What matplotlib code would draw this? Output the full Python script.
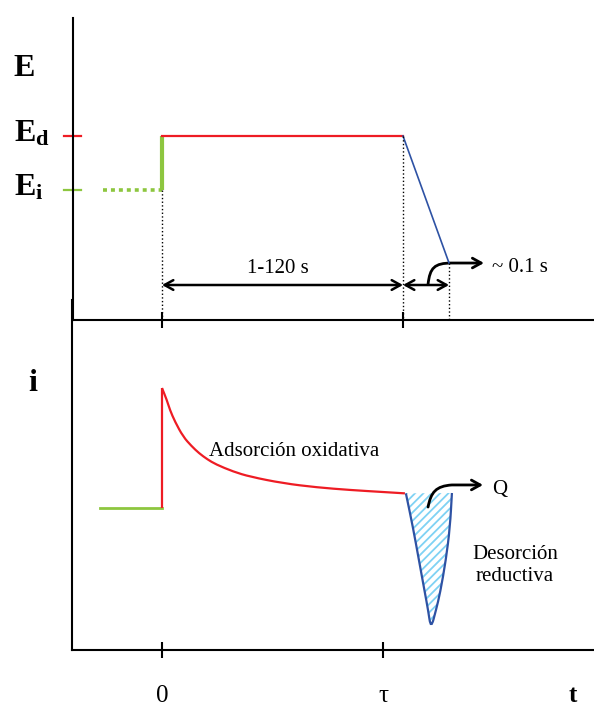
import matplotlib
matplotlib.use('Agg')
import matplotlib.pyplot as plt
from matplotlib.patches import FancyArrowPatch, PathPatch
from matplotlib.path import Path
from matplotlib.transforms import blended_transform_factory, offset_copy

plt.rcParams['font.family'] = 'Liberation Serif'
plt.rcParams['mathtext.fontset'] = 'custom'
plt.rcParams['mathtext.rm'] = 'Liberation Serif'
plt.rcParams['mathtext.bf'] = 'Liberation Serif:bold'
plt.rcParams['hatch.linewidth'] = 1.3

# tiempo en unidades de tau; potencial: E_i = 0, E_d = 1
t_pre = [-0.245, 0.0]
E_pre = [0.0, 0.0]
t_step = [0.0, 0.0]
E_step = [0.0, 1.0]
t_hold = [0.0, 1.0]
E_hold = [1.0, 1.0]
t_sweep = [1.0, 1.191]
E_sweep = [1.0, -1.352]
E_ticks = [1.0, 0.0]
E_tick_labels = [r'$\mathbf{E_d}$', r'$\mathbf{E_i}$']
t_ticks_E = [0.0, 1.0]

# corriente (unidades arbitrarias)
t_base = [-0.257, 0.0]
i_base = [0.0, 0.0]
t_jump = [0.0, 0.0]
i_jump = [0.0, 1.0]
t_ox = [0.0, 0.020, 0.033, 0.054, 0.088, 0.122, 0.154, 0.188, 0.223,
        0.296, 0.365, 0.503, 0.642, 0.780, 0.919, 1.008]
i_ox = [1.0, 0.900, 0.817, 0.719, 0.594, 0.517, 0.456, 0.406, 0.364,
        0.303, 0.261, 0.206, 0.172, 0.150, 0.133, 0.122]
t_red = [1.012, 1.041, 1.066, 1.091, 1.104, 1.116, 1.137, 1.154, 1.178,
         1.195, 1.203]
i_red = [0.122, -0.158, -0.433, -0.708, -0.85, -1.008, -0.85, -0.708,
         -0.433, -0.158, 0.125]
t_ticks_i = [0.0, 0.917]
t_tick_labels = ['0', 'τ']

RED = '#ee1c24'
GREEN = '#8dc63f'
BLUE = '#2e52a4'
HATCH = '#7fd2f4'

W, H = 594, 706
fig = plt.figure(figsize=(W / 100, H / 100), dpi=100)

def px_axes(x0, y0, x1, y1):
    return fig.add_axes([x0 / W, 1 - y1 / H, (x1 - x0) / W, (y1 - y0) / H])

def smooth_path(xs, ys, closed=False):
    # curva suave que pasa cerca de los puntos (cuadraticas entre puntos medios)
    pts = list(zip(xs, ys))
    verts = [pts[0], ((pts[0][0] + pts[1][0]) / 2, (pts[0][1] + pts[1][1]) / 2)]
    codes = [Path.MOVETO, Path.LINETO]
    for k in range(1, len(pts) - 1):
        mid = ((pts[k][0] + pts[k + 1][0]) / 2, (pts[k][1] + pts[k + 1][1]) / 2)
        verts += [pts[k], mid]
        codes += [Path.CURVE3, Path.CURVE3]
    verts.append(pts[-1])
    codes.append(Path.LINETO)
    if closed:
        verts.append(pts[0])
        codes.append(Path.CLOSEPOLY)
    return Path(verts, codes)

axE = px_axes(73, 18, 594, 320)
axE.set_xlim(-0.3693, 1.7925)
axE.set_ylim(-2.407, 3.185)
axi = px_axes(72, 300, 594, 650)
axi.set_xlim(-0.3734, 1.7925)
axi.set_ylim(-1.1833, 1.7333)

for ax in (axE, axi):
    ax.patch.set_alpha(0)
    for s in ('top', 'right'):
        ax.spines[s].set_visible(False)
    for s in ('left', 'bottom'):
        ax.spines[s].set_linewidth(1.5)
    ax.set_yticks([])
    ax.tick_params(axis='x', direction='inout', length=11, width=1.5,
                   labelbottom=False)

axE.set_xticks(t_ticks_E)
axi.set_xticks(t_ticks_i)

# ---- panel superior: E vs t
axE.plot(t_pre, E_pre, color=GREEN, lw=2.6, linestyle=(0, (1.1, 1.1)))
axE.plot(t_step, E_step, color=GREEN, lw=3.0, solid_capstyle='butt')
axE.plot(t_hold, E_hold, color=RED, lw=1.6)
axE.plot(t_sweep, E_sweep, color=BLUE, lw=1.2)

# marcas de E_d y E_i sobre el eje
yt = blended_transform_factory(axE.transAxes, axE.transData)
for Ev, lab, c in zip(E_ticks, E_tick_labels, [RED, GREEN]):
    axE.plot([-0.017, 0.015], [Ev, Ev], color=c, lw=1.6, transform=yt,
             clip_on=False)
    axE.text(-0.114, Ev, lab, fontsize=23, ha='left', va='baseline',
             transform=offset_copy(yt, fig=fig, y=-5, units='dots'))
fig.text(13 / W, 1 - 76 / H, 'E', fontsize=23, fontweight='bold',
         ha='left', va='baseline')

# lineas punteadas de referencia
ybot = axE.get_ylim()[0]
for tv, Ev in [(t_step[0], E_step[0]), (t_hold[1], E_hold[1]),
               (t_sweep[1], E_sweep[1])]:
    axE.plot([tv, tv], [Ev, ybot], color='black', lw=1.0, linestyle=':',
             clip_on=False)

E_arr = -1.759
arr_kw = dict(arrowstyle='<->,head_length=0.45,head_width=0.25',
              mutation_scale=14, lw=1.8, color='black', shrinkA=0, shrinkB=0)
axE.add_patch(FancyArrowPatch((t_hold[0], E_arr), (t_hold[1], E_arr), **arr_kw))
axE.add_patch(FancyArrowPatch((t_sweep[0], E_arr), (t_sweep[1], E_arr), **arr_kw))
axE.text(0.479, -1.537, '1-120 s', fontsize=15, ha='center', va='baseline')

def curved_arrow(ax, p0, c1, c2, p3, p4):
    path = Path([p0, c1, c2, p3, p4],
                [Path.MOVETO, Path.CURVE4, Path.CURVE4, Path.CURVE4, Path.LINETO])
    ax.add_patch(FancyArrowPatch(path=path,
                                 arrowstyle='->,head_length=0.45,head_width=0.25',
                                 mutation_scale=14, lw=2.0, color='black'))

curved_arrow(axE, (1.104, -1.741), (1.112, -1.444), (1.129, -1.352),
             (1.203, -1.352), (1.336, -1.352))
axE.text(1.369, -1.426, '~ 0.1 s', fontsize=15, ha='left', va='center')

# ---- panel inferior: i vs t
axi.plot(t_base, i_base, color=GREEN, lw=2.0)
axi.plot(t_jump, i_jump, color=RED, lw=1.6, solid_capstyle='butt')
axi.add_patch(PathPatch(smooth_path(t_ox, i_ox), facecolor='none',
                        edgecolor=RED, lw=1.6))
axi.add_patch(PathPatch(smooth_path(t_red, i_red, closed=True),
                        facecolor='white', edgecolor=HATCH, hatch='////', lw=0))
axi.add_patch(PathPatch(smooth_path(t_red, i_red), facecolor='none',
                        edgecolor=BLUE, lw=1.6))

curved_arrow(axi, (1.104, 0.008), (1.116, 0.133), (1.137, 0.183),
             (1.203, 0.192), (1.332, 0.192))
axi.text(1.369, 0.158, 'Q', fontsize=15, ha='left', va='center')
axi.text(0.195, 0.433, 'Adsorción oxidativa', fontsize=15, ha='left',
         va='baseline')
axi.text(1.465, -0.479, 'Desorción\nreductiva', fontsize=15, ha='center',
         va='center', linespacing=1.25)

xt = blended_transform_factory(axi.transData, axi.transAxes)
for tv, lab in zip(t_ticks_i, t_tick_labels):
    axi.text(tv, -0.1486, lab, fontsize=18, ha='center', va='baseline',
             transform=xt)
fig.text(573 / W, 1 - 702 / H, 't', fontsize=18, fontweight='bold',
         ha='center', va='baseline')
fig.text(28 / W, 1 - 391 / H, 'i', fontsize=23, fontweight='bold',
         ha='left', va='baseline')

fig.savefig('out.png', dpi=100, facecolor='white')
